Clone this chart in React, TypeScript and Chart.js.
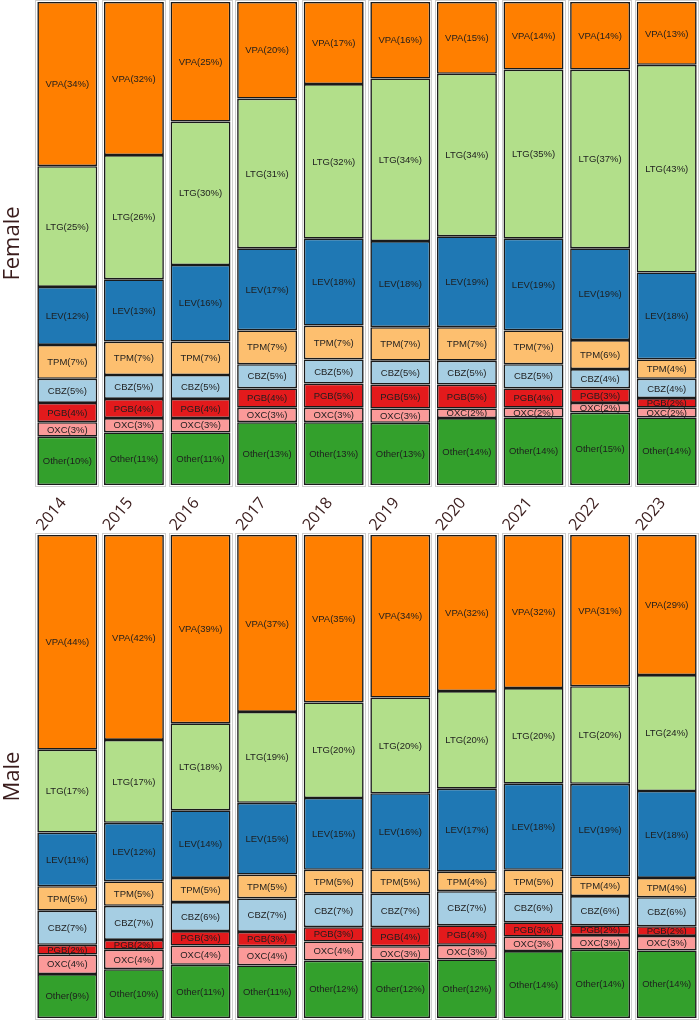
import React, { useEffect, useRef } from "react";
import { Chart, registerables } from "chart.js";

Chart.register(...registerables);

// Years on the category axis
const years = ["2014", "2015", "2016", "2017", "2018", "2019", "2020", "2021", "2022", "2023"];

// Drugs, stacked from the bottom of each bar to the top
const drugs = ["Other", "OXC", "PGB", "CBZ", "TPM", "LEV", "LTG", "VPA"];
const drugColors = ["#33a02c", "#fb9a99", "#e31a1c", "#a6cee3", "#fdbf6f", "#1f78b4", "#b2df8a", "#ff7f00"];

// Female prescription shares (%) by year
const femaleVPA = [34, 32, 25, 20, 17, 16, 15, 14, 14, 13];
const femaleLTG = [25, 26, 30, 31, 32, 34, 34, 35, 37, 43];
const femaleLEV = [12, 13, 16, 17, 18, 18, 19, 19, 19, 18];
const femaleTPM = [7, 7, 7, 7, 7, 7, 7, 7, 6, 4];
const femaleCBZ = [5, 5, 5, 5, 5, 5, 5, 5, 4, 4];
const femalePGB = [4, 4, 4, 4, 5, 5, 5, 4, 3, 2];
const femaleOXC = [3, 3, 3, 3, 3, 3, 2, 2, 2, 2];
const femaleOther = [10, 11, 11, 13, 13, 13, 14, 14, 15, 14];

// Male prescription shares (%) by year
const maleVPA = [44, 42, 39, 37, 35, 34, 32, 32, 31, 29];
const maleLTG = [17, 17, 18, 19, 20, 20, 20, 20, 20, 24];
const maleLEV = [11, 12, 14, 15, 15, 16, 17, 18, 19, 18];
const maleTPM = [5, 5, 5, 5, 5, 5, 4, 5, 4, 4];
const maleCBZ = [7, 7, 6, 7, 7, 7, 7, 6, 6, 6];
const malePGB = [2, 2, 3, 3, 3, 4, 4, 3, 2, 2];
const maleOXC = [4, 4, 4, 4, 4, 3, 3, 3, 3, 3];
const maleOther = [9, 10, 11, 11, 12, 12, 12, 14, 14, 14];

const femaleSeries = [femaleOther, femaleOXC, femalePGB, femaleCBZ, femaleTPM, femaleLEV, femaleLTG, femaleVPA];
const maleSeries = [maleOther, maleOXC, malePGB, maleCBZ, maleTPM, maleLEV, maleLTG, maleVPA];

const TEXT_FONT = "'Liberation Sans', Arial, sans-serif";
const AXIS_FONT = "'Open Sans', 'DejaVu Sans', sans-serif";
const AXIS_COLOR = "#3a1c1c";

// Writes "DRUG(n%)" in the middle of every segment
const segmentLabels = {
  id: "segmentLabels",
  afterDatasetsDraw(chart: any) {
    const ctx = chart.ctx;
    ctx.save();
    ctx.font = `9.5px ${TEXT_FONT}`;
    ctx.fillStyle = "#1e1e1e";
    ctx.textAlign = "center";
    ctx.textBaseline = "middle";
    chart.data.datasets.forEach((ds: any, di: number) => {
      const meta = chart.getDatasetMeta(di);
      meta.data.forEach((bar: any, i: number) => {
        const cy = (bar.y + bar.base) / 2;
        ctx.fillText(`${ds.label}(${ds.shares[i]}%)`, bar.x, cy + 0.5);
      });
    });
    ctx.restore();
  },
};

// Thin grey panel frame around each year's column
const columnFrames = {
  id: "columnFrames",
  afterDatasetsDraw(chart: any) {
    const ctx = chart.ctx;
    const first = chart.getDatasetMeta(0).data;
    const last = chart.getDatasetMeta(chart.data.datasets.length - 1).data;
    ctx.save();
    ctx.strokeStyle = "#cfcfcf";
    ctx.lineWidth = 1;
    first.forEach((bar: any, i: number) => {
      const top = last[i].y;
      const bottom = bar.base;
      const half = bar.width / 2;
      ctx.strokeRect(Math.round(bar.x - half) - 1.5, Math.round(top) - 1.5, Math.round(bar.width) + 3, Math.round(bottom - top) + 3);
    });
    ctx.restore();
  },
};

type PanelProps = {
  title: string;
  series: number[][];
  width: number;
  height: number;
  padTop: number;
  padBottom: number;
  showYears: boolean;
};

function Panel({ title, series, width, height, padTop, padBottom, showYears }: PanelProps) {
  const ref = useRef<HTMLCanvasElement>(null);

  useEffect(() => {
    if (!ref.current) return;
    const totals = years.map((_, i) => series.reduce((s, arr) => s + arr[i], 0));
    const chart = new Chart(ref.current, {
      type: "bar",
      data: {
        labels: years,
        datasets: drugs.map((name, k) => ({
          label: name,
          shares: series[k],
          data: series[k].map((v, i) => (v / totals[i]) * 100),
          backgroundColor: drugColors[k],
          borderColor: "#1a1a1a",
          borderWidth: 1.6,
          borderSkipped: false,
          barPercentage: 0.9,
          categoryPercentage: 1,
        })) as any,
      },
      options: {
        animation: false,
        responsive: false,
        maintainAspectRatio: false,
        layout: { padding: { top: padTop, bottom: padBottom, left: 0, right: 0 } },
        plugins: { legend: { display: false }, tooltip: { enabled: false } },
        scales: {
          x: {
            stacked: true,
            display: showYears,
            grid: { display: false },
            border: { display: false },
            ticks: {
              minRotation: 50,
              maxRotation: 50,
              padding: 1,
              labelOffset: -4,
              color: AXIS_COLOR,
              font: { family: AXIS_FONT, size: 16 },
            },
            afterFit: (s: any) => {
              s.height = showYears ? 47 : 0;
            },
          },
          y: {
            stacked: true,
            min: 0,
            max: 100,
            grid: { display: false },
            border: { display: false },
            ticks: { display: false },
            title: {
              display: true,
              text: title,
              color: AXIS_COLOR,
              padding: { top: 0, bottom: 0 },
              font: { family: AXIS_FONT, size: 22 },
            },
            afterFit: (s: any) => {
              s.width = 34;
            },
          },
        },
      },
      plugins: [columnFrames, segmentLabels],
    });
    return () => chart.destroy();
  }, [title, series, width, height, padTop, padBottom, showYears]);

  return <canvas ref={ref} width={width} height={height} style={{ display: "block" }} />;
}

export default function App() {
  return (
    <div style={{ position: "absolute", left: 0, top: 0, width: 700, height: 1020, background: "#ffffff" }}>
      <Panel title="Female" series={femaleSeries} width={700} height={532} padTop={2} padBottom={0} showYears={true} />
      <Panel title="Male" series={maleSeries} width={700} height={488} padTop={3} padBottom={2} showYears={false} />
    </div>
  );
}
